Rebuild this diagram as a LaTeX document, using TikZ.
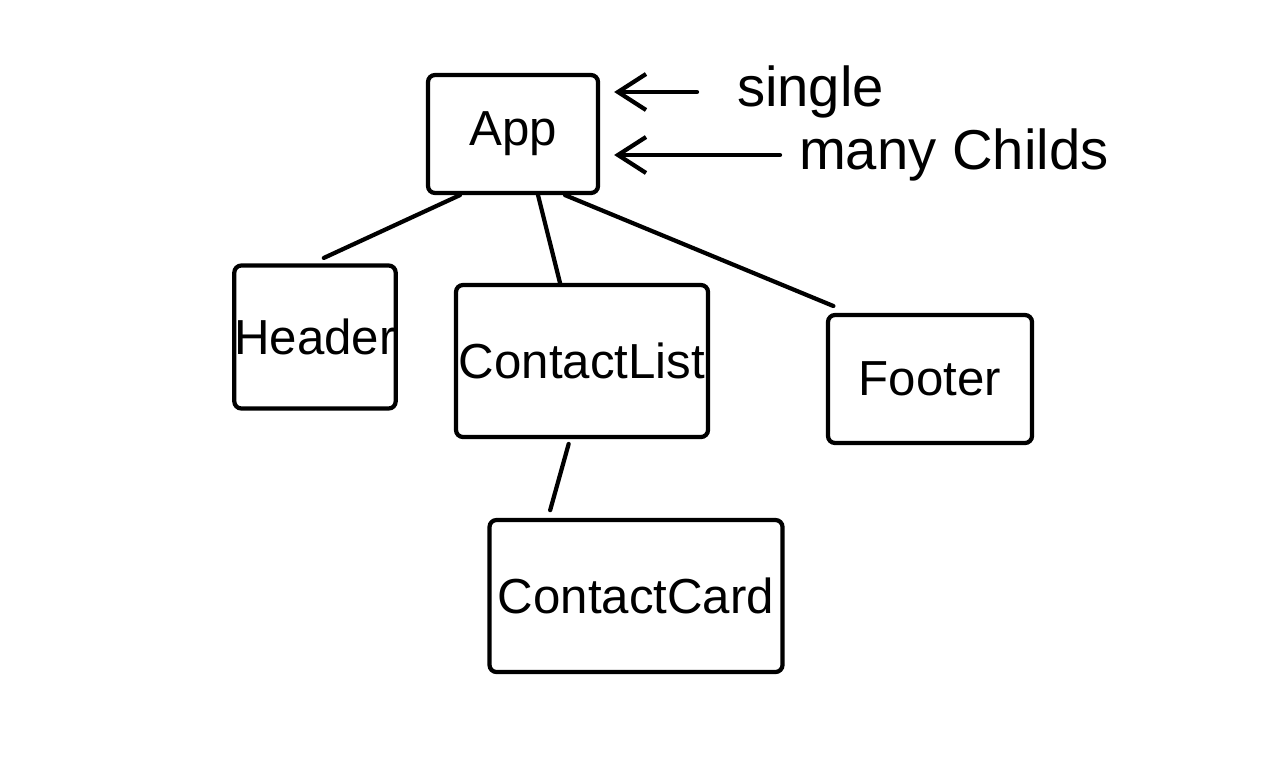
\documentclass[tikz,border=0pt]{standalone}
\usepackage{fontspec}
\setmainfont{Liberation Sans}
\usetikzlibrary{arrows.meta}
\begin{document}
\begin{tikzpicture}[x=1cm,y=-1cm,line width=1.2pt,line cap=round,
 comp/.style={draw,rounded corners=2pt,inner sep=0pt,font=\fontsize{14}{17}\selectfont},
 note/.style={anchor=west,inner sep=0pt,font=\fontsize{16}{19}\selectfont},
 hint/.style={-{Straight Barb[length=2.8mm,width=3.6mm]},shorten <=.38cm,shorten >=.14cm}]
\useasboundingbox (0,0) rectangle (12.8,7.68);
% components
\node[comp,minimum width=1.7cm,minimum height=1.18cm] (app) at (5.13,1.34){App};
\node[comp,minimum width=1.46cm,minimum height=1.43cm] (header) at (3.15,3.37){Header};
\node[comp,minimum width=2.52cm,minimum height=1.52cm] (contactlist) at (5.82,3.61){ContactList};
\node[comp,minimum width=2.04cm,minimum height=1.28cm] (footer) at (9.30,3.79){Footer};
\node[comp,minimum width=2.93cm,minimum height=1.52cm] (contactcard) at (6.36,5.96){ContactCard};
% notes
\node[note] (single) at (7.35,0.92){single};
\node[note] (many) at (7.97,1.55){many Childs};
\draw[hint] (single.west) -- (single.west -| app.east);
\draw[hint,shorten <=.17cm] (many.west) -- (many.west -| app.east);
% tree
\draw[shorten >=.13cm] ([xshift=-.53cm]app.south) -- ([xshift=-.03cm]header.north);
\draw ([xshift=.25cm]app.south) -- ([xshift=-.22cm]contactlist.north);
\draw[shorten >=.18cm] ([xshift=.52cm]app.south) -- ([xshift=-.8cm]footer.north);
\draw[shorten <=.05cm,shorten >=.08cm] ([xshift=-.12cm]contactlist.south) -- ([xshift=-.88cm]contactcard.north);
\end{tikzpicture}
\end{document}
